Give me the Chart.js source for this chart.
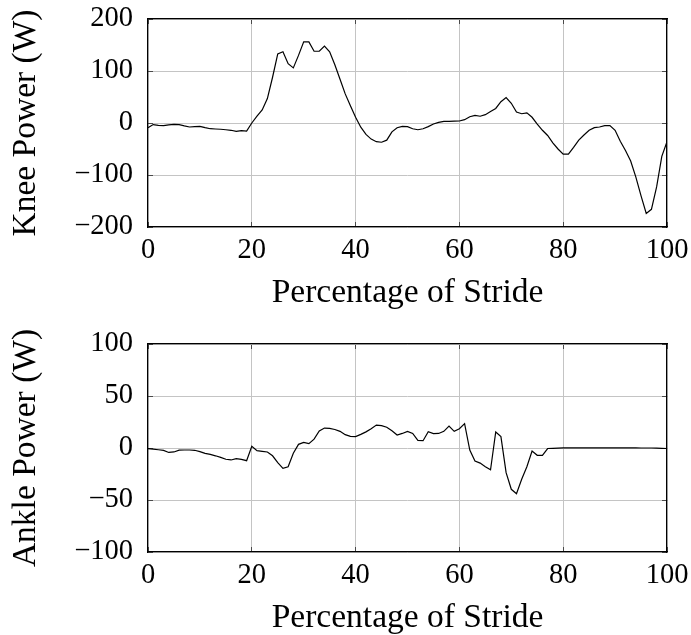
<!DOCTYPE html>
<html>
<head>
<meta charset="utf-8">
<script src="https://cdn.jsdelivr.net/npm/chart.js@4"></script>
<style>
  html, body { margin: 0; padding: 0; background: #fff; overflow: hidden; }
  body { width: 691px; height: 635px; position: relative; }
  canvas { position: absolute; left: 0; }
  #kneeChart { top: 0; }
  #ankleChart { top: 325px; }
</style>
</head>
<body>
<canvas id="kneeChart" width="691" height="320"></canvas>
<canvas id="ankleChart" width="691" height="320"></canvas>
<script>
// Percentage of stride (x values)
const stride = [0, 1, 2, 3, 4, 5, 6, 7, 8, 9, 10, 11, 12, 13, 14, 15, 16, 17, 18, 19,
  20, 21, 22, 23, 24, 25, 26, 27, 28, 29, 30, 31, 32, 33, 34, 35, 36, 37, 38, 39,
  40, 41, 42, 43, 44, 45, 46, 47, 48, 49, 50, 51, 52, 53, 54, 55, 56, 57, 58, 59,
  60, 61, 62, 63, 64, 65, 66, 67, 68, 69, 70, 71, 72, 73, 74, 75, 76, 77, 78, 79,
  80, 81, 82, 83, 84, 85, 86, 87, 88, 89, 90, 91, 92, 93, 94, 95, 96, 97, 98, 99, 100];

// Knee power (W)
const kneePower = [-9, -3, -4.5, -5, -3.5, -2.6, -3, -5.5, -7.7, -7,
  -6.4, -9, -11, -11.5, -12, -13, -14, -16, -14.7, -15.4,
  0, 13, 25, 47, 88, 133, 137, 114, 106, 130,
  156, 156, 138, 138, 148, 137, 112, 84, 56, 33,
  11, -8, -22, -31, -36, -37, -33, -17, -9, -6.4,
  -7, -11, -13, -11, -7, -2, 1.3, 3, 3.2, 3.5,
  3.8, 6.4, 12, 14.7, 13, 16, 22, 28, 41, 49,
  38, 21, 17.8, 19.5, 11, -2, -14, -24, -38, -50,
  -60, -60, -47, -33, -23, -14, -9, -7.7, -5, -5,
  -14, -35, -53, -73, -104, -140, -174, -166, -123, -64, -36];

// Ankle power (W)
const anklePower = [-0.6, -1, -1.7, -2.3, -4.3, -3.8, -2, -1.9, -1.9, -2.2,
  -3.5, -5.2, -6.2, -7.5, -9, -10.8, -11.5, -10.3, -11, -12.2,
  1.6, -2.5, -3.2, -3.8, -7.5, -14, -19.6, -18, -5, 3.5,
  5.4, 4.2, 8.5, 16.3, 19.2, 18.8, 17.8, 16, 12.8, 11.2,
  11, 13.1, 15.5, 18.5, 22, 21.5, 20, 16.5, 12.5, 14,
  16, 14, 7.4, 7, 15.7, 13.8, 14, 16, 21, 16,
  18.5, 23.4, -2, -12.5, -14.5, -18, -21, 15.4, 11, -23.7,
  -39.7, -44, -30, -18, -3, -7, -7, -0.5, -0.3, -0.1,
  0.1, 0.2, 0.2, 0.2, 0.2, 0.2, 0.2, 0.2, 0.2, 0.2,
  0.1, 0.1, 0.1, 0.1, 0.1, 0, 0, 0, -0.2, -0.3, -0.5];

const xTicks = [0, 20, 40, 60, 80, 100];
const kneeTicks = [-200, -100, 0, 100, 200];
const ankleTicks = [-100, -50, 0, 50, 100];

const serif = "'Liberation Serif', 'Times New Roman', serif";
const gridGray = '#c4c4c4';
const tickDark = '#4a4a4a';

function fmt(v) {
  return String(v).replace('-', '\u2212');
}

// drop the label overhang padding so layout.padding alone places the plot box
function noPad(s) {
  s.paddingTop = 0;
  s.paddingBottom = 0;
  s.paddingLeft = 0;
  s.paddingRight = 0;
}

function makeChart(id, values, yTicks, yTitle) {
  const ctx = document.getElementById(id).getContext('2d');
  const points = values.map((v, i) => ({ x: stride[i], y: v }));
  const yMin = yTicks[0];
  const yMax = yTicks[yTicks.length - 1];

  const gridOpts = {
    color: gridGray,
    lineWidth: 1,
    tickLength: -5,
    tickColor: tickDark,
    tickWidth: 1
  };
  const borderOpts = { color: '#000', width: 1.2 };

  return new Chart(ctx, {
    type: 'line',
    data: {
      datasets: [{
        data: points,
        borderColor: '#000',
        borderWidth: 1.2,
        pointRadius: 0,
        fill: false,
        tension: 0
      }]
    },
    options: {
      responsive: false,
      animation: false,
      layout: { padding: { top: 19, right: 24, left: 0, bottom: 0 } },
      plugins: { legend: { display: false }, tooltip: { enabled: false } },
      scales: {
        x: {
          type: 'linear',
          position: 'bottom',
          min: 0,
          max: 100,
          afterBuildTicks: s => { s.ticks = xTicks.map(v => ({ value: v })); },
          afterFit: s => { s.height = 93; noPad(s); },
          grid: gridOpts,
          border: borderOpts,
          ticks: {
            padding: 11,
            color: '#000',
            font: { family: serif, size: 28.5 },
            maxRotation: 0,
            callback: v => fmt(v)
          },
          title: {
            display: true,
            text: 'Percentage of Stride',
            color: '#000',
            font: { family: serif, size: 33.5 },
            padding: { top: 0, bottom: 7 }
          }
        },
        x2: {
          type: 'linear',
          axis: 'x',
          position: 'top',
          min: 0,
          max: 100,
          afterBuildTicks: s => { s.ticks = xTicks.map(v => ({ value: v })); },
          afterFit: s => { s.height = 0; noPad(s); },
          grid: Object.assign({}, gridOpts, { drawOnChartArea: false }),
          border: borderOpts,
          ticks: { display: false }
        },
        y: {
          type: 'linear',
          position: 'left',
          min: yMin,
          max: yMax,
          afterBuildTicks: s => { s.ticks = yTicks.map(v => ({ value: v })); },
          afterFit: s => { s.width = 148; noPad(s); },
          grid: gridOpts,
          border: borderOpts,
          ticks: {
            padding: 20,
            color: '#000',
            font: { family: serif, size: 28.5 },
            callback: v => fmt(v)
          },
          title: {
            display: true,
            text: yTitle,
            color: '#000',
            font: { family: serif, size: 33.5 },
            padding: { top: 6, bottom: 0 }
          }
        },
        y2: {
          type: 'linear',
          axis: 'y',
          position: 'right',
          min: yMin,
          max: yMax,
          afterBuildTicks: s => { s.ticks = yTicks.map(v => ({ value: v })); },
          afterFit: s => { s.width = 0; noPad(s); },
          grid: Object.assign({}, gridOpts, { drawOnChartArea: false }),
          border: borderOpts,
          ticks: { display: false }
        }
      }
    }
  });
}

makeChart('kneeChart', kneePower, kneeTicks, 'Knee Power (W)');
makeChart('ankleChart', anklePower, ankleTicks, 'Ankle Power (W)');
</script>
</body>
</html>
